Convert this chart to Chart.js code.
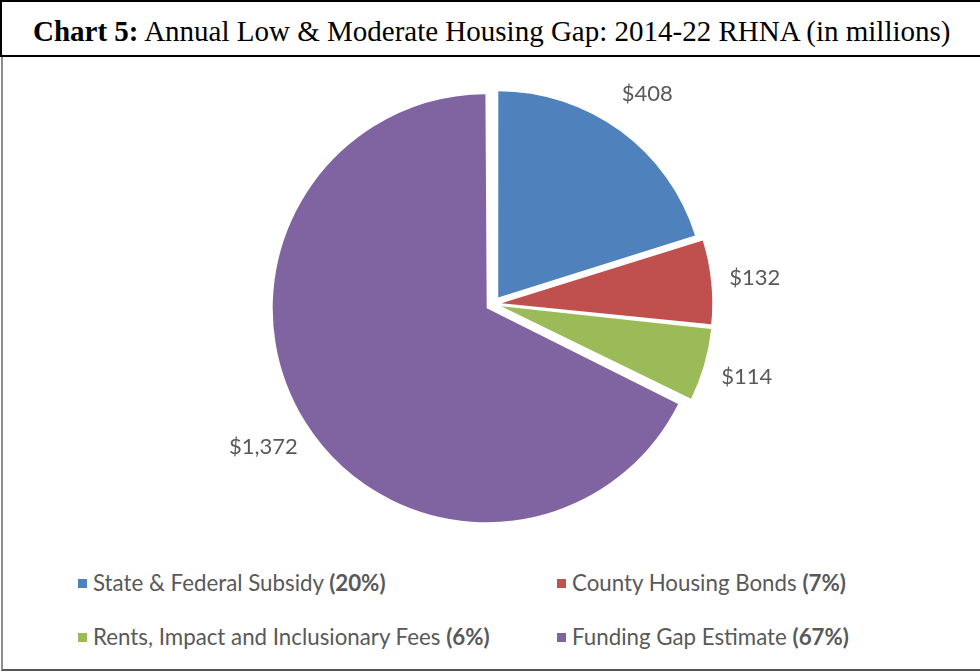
<!DOCTYPE html>
<html>
<head>
<meta charset="utf-8">
<script src="https://cdn.jsdelivr.net/npm/chart.js@4.4.1/dist/chart.umd.min.js"></script>
<style>
  body { margin: 0; background: #fff; width: 980px; height: 672px; overflow: hidden; position: relative; }
  #title {
    position: absolute; left: 0; top: 0; width: 1000px; height: 53px;
    border: 2px solid #000; box-sizing: content-box;
    font-family: "Liberation Serif", "Times New Roman", serif; font-size: 29px;
    line-height: 58px; padding-left: 31px; color: #000; white-space: nowrap;
  }
  #frame {
    position: absolute; left: 1px; top: 57px; width: 990px; height: 612px;
    border-left: 2px solid #8c8c8c; border-bottom: 2px solid #555;
  }
  #wrap { position: absolute; left: 0; top: 57px; width: 980px; height: 500px; }
  #legend { position: absolute; left: 0; top: 560px; width: 980px; }
  .item {
    position: absolute; font-family: Lato, "Open Sans", sans-serif; font-size: 22.3px;
    color: #595959; white-space: nowrap; line-height: 24px;
  }
  .item i { display: inline-block; width: 9px; height: 9px; margin-right: 6px; vertical-align: 3px; }
  .item b { font-weight: bold; }
</style>
</head>
<body>
<div id="title"><b>Chart 5:</b> Annual Low &amp; Moderate Housing Gap: 2014-22 RHNA (in millions)</div>
<div id="frame"></div>
<div id="wrap"><canvas id="myChart"></canvas></div>
<div id="legend"></div>
<script>
// chart data
var categories = ['State & Federal Subsidy', 'County Housing Bonds', 'Rents, Impact and Inclusionary Fees', 'Funding Gap Estimate'];
var values = [408, 132, 114, 1372];
var valueLabels = ['$408', '$132', '$114', '$1,372'];
var percentLabels = ['(20%)', '(7%)', '(6%)', '(67%)'];
var colors = ['#4F81BD', '#C0504D', '#9BBB59', '#8064A2'];

// chart.js moves an arc by offset / 4 pixels
var OFFSET = 32;

// draws the $ labels outside each slice, the text box kept clear of the edge
var outsideLabels = {
    id: 'outsideLabels',
    afterDatasetsDraw: function (chart) {
        var ctx = chart.ctx;
        var meta = chart.getDatasetMeta(0);
        ctx.save();
        ctx.font = '22px Lato, "Open Sans", sans-serif';
        ctx.fillStyle = '#595959';
        ctx.textAlign = 'center';
        ctx.textBaseline = 'middle';
        meta.data.forEach(function (arc, i) {
            var p = arc.getProps(['x', 'y', 'startAngle', 'endAngle', 'outerRadius'], true);
            var mid = (p.startAngle + p.endAngle) / 2;
            var dx = Math.cos(mid), dy = Math.sin(mid);
            var text = valueLabels[i];
            var w = ctx.measureText(text).width;
            var r = p.outerRadius + OFFSET / 4 + 22 + Math.abs(dx) * w / 2 + Math.abs(dy) * 11;
            ctx.fillText(text, p.x + dx * r, p.y + dy * r);
        });
        ctx.restore();
    }
};

var ctx = document.getElementById('myChart');
var chart = new Chart(ctx, {
    type: 'pie',
    data: {
        labels: categories,
        datasets: [{
            data: values,
            backgroundColor: colors,
            borderWidth: 0,
            offset: OFFSET
        }]
    },
    options: {
        responsive: true,
        maintainAspectRatio: false,
        animation: false,
        radius: 206,
        layout: { padding: { left: 7, right: 0, top: 0, bottom: 6 } },
        plugins: {
            legend: { display: false },
            tooltip: { enabled: false }
        }
    },
    plugins: [outsideLabels]
});

// legend, two columns
var pos = [[78, 11], [557, 11], [78, 65], [557, 65]];
var legend = document.getElementById('legend');
categories.forEach(function (name, i) {
    var d = document.createElement('div');
    d.className = 'item';
    d.style.left = pos[i][0] + 'px';
    d.style.top = pos[i][1] + 'px';
    d.innerHTML = '<i style="background:' + colors[i] + '"></i>' + name.replace('&', '&amp;') + ' <b>' + percentLabels[i] + '</b>';
    legend.appendChild(d);
});
</script>
</body>
</html>
